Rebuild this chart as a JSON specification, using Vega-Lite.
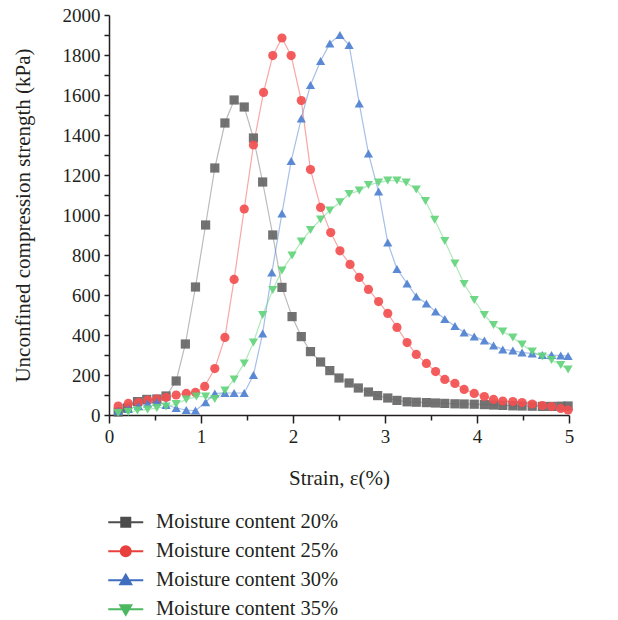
{
  "$schema": "https://vega.github.io/schema/vega-lite/v6.json",
  "width": 460,
  "height": 400,
  "autosize": {"type": "none"},
  "padding": {"left": 109, "top": 15, "right": 49, "bottom": 205},
  "background": "white",
  "config": {"view": {"stroke": null}, "font": "Liberation Serif"},
  "data": {"values": [
    {"s":0.1,"u":15,"m":"Moisture content 20%"},{"s":0.2,"u":35,"m":"Moisture content 20%"},{"s":0.31,"u":67,"m":"Moisture content 20%"},{"s":0.41,"u":78,"m":"Moisture content 20%"},{"s":0.52,"u":80,"m":"Moisture content 20%"},{"s":0.62,"u":95,"m":"Moisture content 20%"},{"s":0.73,"u":170,"m":"Moisture content 20%"},{"s":0.83,"u":355,"m":"Moisture content 20%"},{"s":0.94,"u":640,"m":"Moisture content 20%"},{"s":1.05,"u":950,"m":"Moisture content 20%"},{"s":1.15,"u":1235,"m":"Moisture content 20%"},{"s":1.26,"u":1460,"m":"Moisture content 20%"},{"s":1.36,"u":1575,"m":"Moisture content 20%"},{"s":1.47,"u":1540,"m":"Moisture content 20%"},{"s":1.57,"u":1385,"m":"Moisture content 20%"},{"s":1.67,"u":1165,"m":"Moisture content 20%"},{"s":1.78,"u":900,"m":"Moisture content 20%"},{"s":1.88,"u":638,"m":"Moisture content 20%"},{"s":1.99,"u":492,"m":"Moisture content 20%"},{"s":2.09,"u":392,"m":"Moisture content 20%"},{"s":2.19,"u":317,"m":"Moisture content 20%"},{"s":2.3,"u":265,"m":"Moisture content 20%"},{"s":2.4,"u":222,"m":"Moisture content 20%"},{"s":2.5,"u":185,"m":"Moisture content 20%"},{"s":2.61,"u":160,"m":"Moisture content 20%"},{"s":2.71,"u":135,"m":"Moisture content 20%"},{"s":2.82,"u":115,"m":"Moisture content 20%"},{"s":2.92,"u":97,"m":"Moisture content 20%"},{"s":3.03,"u":85,"m":"Moisture content 20%"},{"s":3.13,"u":73,"m":"Moisture content 20%"},{"s":3.24,"u":66,"m":"Moisture content 20%"},{"s":3.34,"u":64,"m":"Moisture content 20%"},{"s":3.45,"u":62,"m":"Moisture content 20%"},{"s":3.55,"u":60,"m":"Moisture content 20%"},{"s":3.65,"u":58,"m":"Moisture content 20%"},{"s":3.76,"u":56,"m":"Moisture content 20%"},{"s":3.86,"u":55,"m":"Moisture content 20%"},{"s":3.97,"u":54,"m":"Moisture content 20%"},{"s":4.08,"u":52,"m":"Moisture content 20%"},{"s":4.18,"u":50,"m":"Moisture content 20%"},{"s":4.28,"u":48,"m":"Moisture content 20%"},{"s":4.39,"u":46,"m":"Moisture content 20%"},{"s":4.49,"u":45,"m":"Moisture content 20%"},{"s":4.6,"u":44,"m":"Moisture content 20%"},{"s":4.71,"u":43,"m":"Moisture content 20%"},{"s":4.81,"u":43,"m":"Moisture content 20%"},{"s":4.91,"u":44,"m":"Moisture content 20%"},{"s":4.99,"u":45,"m":"Moisture content 20%"},

    {"s":0.1,"u":45,"m":"Moisture content 25%"},{"s":0.21,"u":58,"m":"Moisture content 25%"},{"s":0.32,"u":63,"m":"Moisture content 25%"},{"s":0.42,"u":75,"m":"Moisture content 25%"},{"s":0.52,"u":80,"m":"Moisture content 25%"},{"s":0.62,"u":88,"m":"Moisture content 25%"},{"s":0.73,"u":100,"m":"Moisture content 25%"},{"s":0.84,"u":108,"m":"Moisture content 25%"},{"s":0.94,"u":113,"m":"Moisture content 25%"},{"s":1.04,"u":143,"m":"Moisture content 25%"},{"s":1.15,"u":232,"m":"Moisture content 25%"},{"s":1.26,"u":388,"m":"Moisture content 25%"},{"s":1.36,"u":678,"m":"Moisture content 25%"},{"s":1.47,"u":1030,"m":"Moisture content 25%"},{"s":1.57,"u":1350,"m":"Moisture content 25%"},{"s":1.68,"u":1613,"m":"Moisture content 25%"},{"s":1.78,"u":1797,"m":"Moisture content 25%"},{"s":1.88,"u":1885,"m":"Moisture content 25%"},{"s":1.98,"u":1797,"m":"Moisture content 25%"},{"s":2.09,"u":1572,"m":"Moisture content 25%"},{"s":2.19,"u":1227,"m":"Moisture content 25%"},{"s":2.3,"u":1038,"m":"Moisture content 25%"},{"s":2.41,"u":912,"m":"Moisture content 25%"},{"s":2.51,"u":821,"m":"Moisture content 25%"},{"s":2.62,"u":753,"m":"Moisture content 25%"},{"s":2.72,"u":688,"m":"Moisture content 25%"},{"s":2.82,"u":628,"m":"Moisture content 25%"},{"s":2.93,"u":567,"m":"Moisture content 25%"},{"s":3.03,"u":508,"m":"Moisture content 25%"},{"s":3.13,"u":438,"m":"Moisture content 25%"},{"s":3.24,"u":362,"m":"Moisture content 25%"},{"s":3.34,"u":303,"m":"Moisture content 25%"},{"s":3.45,"u":258,"m":"Moisture content 25%"},{"s":3.55,"u":217,"m":"Moisture content 25%"},{"s":3.65,"u":178,"m":"Moisture content 25%"},{"s":3.76,"u":158,"m":"Moisture content 25%"},{"s":3.86,"u":128,"m":"Moisture content 25%"},{"s":3.97,"u":108,"m":"Moisture content 25%"},{"s":4.08,"u":92,"m":"Moisture content 25%"},{"s":4.18,"u":78,"m":"Moisture content 25%"},{"s":4.28,"u":70,"m":"Moisture content 25%"},{"s":4.39,"u":67,"m":"Moisture content 25%"},{"s":4.49,"u":62,"m":"Moisture content 25%"},{"s":4.6,"u":55,"m":"Moisture content 25%"},{"s":4.71,"u":47,"m":"Moisture content 25%"},{"s":4.81,"u":42,"m":"Moisture content 25%"},{"s":4.91,"u":33,"m":"Moisture content 25%"},{"s":4.99,"u":25,"m":"Moisture content 25%"},

    {"s":0.1,"u":20,"m":"Moisture content 30%"},{"s":0.21,"u":30,"m":"Moisture content 30%"},{"s":0.32,"u":45,"m":"Moisture content 30%"},{"s":0.42,"u":58,"m":"Moisture content 30%"},{"s":0.52,"u":65,"m":"Moisture content 30%"},{"s":0.62,"u":50,"m":"Moisture content 30%"},{"s":0.73,"u":35,"m":"Moisture content 30%"},{"s":0.84,"u":25,"m":"Moisture content 30%"},{"s":0.94,"u":22,"m":"Moisture content 30%"},{"s":1.05,"u":64,"m":"Moisture content 30%"},{"s":1.15,"u":108,"m":"Moisture content 30%"},{"s":1.26,"u":110,"m":"Moisture content 30%"},{"s":1.36,"u":110,"m":"Moisture content 30%"},{"s":1.47,"u":110,"m":"Moisture content 30%"},{"s":1.57,"u":200,"m":"Moisture content 30%"},{"s":1.67,"u":408,"m":"Moisture content 30%"},{"s":1.77,"u":712,"m":"Moisture content 30%"},{"s":1.88,"u":1008,"m":"Moisture content 30%"},{"s":1.98,"u":1270,"m":"Moisture content 30%"},{"s":2.09,"u":1483,"m":"Moisture content 30%"},{"s":2.19,"u":1650,"m":"Moisture content 30%"},{"s":2.3,"u":1770,"m":"Moisture content 30%"},{"s":2.4,"u":1858,"m":"Moisture content 30%"},{"s":2.51,"u":1900,"m":"Moisture content 30%"},{"s":2.61,"u":1850,"m":"Moisture content 30%"},{"s":2.72,"u":1558,"m":"Moisture content 30%"},{"s":2.82,"u":1308,"m":"Moisture content 30%"},{"s":2.93,"u":1117,"m":"Moisture content 30%"},{"s":3.03,"u":862,"m":"Moisture content 30%"},{"s":3.13,"u":730,"m":"Moisture content 30%"},{"s":3.24,"u":658,"m":"Moisture content 30%"},{"s":3.34,"u":592,"m":"Moisture content 30%"},{"s":3.45,"u":558,"m":"Moisture content 30%"},{"s":3.55,"u":517,"m":"Moisture content 30%"},{"s":3.65,"u":480,"m":"Moisture content 30%"},{"s":3.76,"u":445,"m":"Moisture content 30%"},{"s":3.86,"u":413,"m":"Moisture content 30%"},{"s":3.97,"u":392,"m":"Moisture content 30%"},{"s":4.08,"u":372,"m":"Moisture content 30%"},{"s":4.18,"u":347,"m":"Moisture content 30%"},{"s":4.28,"u":328,"m":"Moisture content 30%"},{"s":4.39,"u":322,"m":"Moisture content 30%"},{"s":4.49,"u":312,"m":"Moisture content 30%"},{"s":4.6,"u":308,"m":"Moisture content 30%"},{"s":4.71,"u":300,"m":"Moisture content 30%"},{"s":4.81,"u":300,"m":"Moisture content 30%"},{"s":4.91,"u":297,"m":"Moisture content 30%"},{"s":4.99,"u":295,"m":"Moisture content 30%"},

    {"s":0.1,"u":10,"m":"Moisture content 35%"},{"s":0.21,"u":15,"m":"Moisture content 35%"},{"s":0.31,"u":22,"m":"Moisture content 35%"},{"s":0.42,"u":28,"m":"Moisture content 35%"},{"s":0.52,"u":35,"m":"Moisture content 35%"},{"s":0.62,"u":42,"m":"Moisture content 35%"},{"s":0.73,"u":55,"m":"Moisture content 35%"},{"s":0.84,"u":78,"m":"Moisture content 35%"},{"s":0.95,"u":92,"m":"Moisture content 35%"},{"s":1.05,"u":92,"m":"Moisture content 35%"},{"s":1.15,"u":80,"m":"Moisture content 35%"},{"s":1.26,"u":122,"m":"Moisture content 35%"},{"s":1.36,"u":178,"m":"Moisture content 35%"},{"s":1.47,"u":258,"m":"Moisture content 35%"},{"s":1.57,"u":362,"m":"Moisture content 35%"},{"s":1.67,"u":500,"m":"Moisture content 35%"},{"s":1.78,"u":625,"m":"Moisture content 35%"},{"s":1.88,"u":723,"m":"Moisture content 35%"},{"s":1.99,"u":797,"m":"Moisture content 35%"},{"s":2.09,"u":867,"m":"Moisture content 35%"},{"s":2.19,"u":925,"m":"Moisture content 35%"},{"s":2.3,"u":978,"m":"Moisture content 35%"},{"s":2.4,"u":1023,"m":"Moisture content 35%"},{"s":2.51,"u":1064,"m":"Moisture content 35%"},{"s":2.61,"u":1105,"m":"Moisture content 35%"},{"s":2.72,"u":1122,"m":"Moisture content 35%"},{"s":2.82,"u":1150,"m":"Moisture content 35%"},{"s":2.93,"u":1162,"m":"Moisture content 35%"},{"s":3.03,"u":1172,"m":"Moisture content 35%"},{"s":3.13,"u":1172,"m":"Moisture content 35%"},{"s":3.23,"u":1162,"m":"Moisture content 35%"},{"s":3.34,"u":1128,"m":"Moisture content 35%"},{"s":3.44,"u":1070,"m":"Moisture content 35%"},{"s":3.54,"u":976,"m":"Moisture content 35%"},{"s":3.65,"u":870,"m":"Moisture content 35%"},{"s":3.76,"u":758,"m":"Moisture content 35%"},{"s":3.86,"u":655,"m":"Moisture content 35%"},{"s":3.97,"u":575,"m":"Moisture content 35%"},{"s":4.08,"u":500,"m":"Moisture content 35%"},{"s":4.18,"u":450,"m":"Moisture content 35%"},{"s":4.28,"u":417,"m":"Moisture content 35%"},{"s":4.39,"u":388,"m":"Moisture content 35%"},{"s":4.49,"u":353,"m":"Moisture content 35%"},{"s":4.6,"u":317,"m":"Moisture content 35%"},{"s":4.71,"u":292,"m":"Moisture content 35%"},{"s":4.81,"u":275,"m":"Moisture content 35%"},{"s":4.91,"u":250,"m":"Moisture content 35%"},{"s":4.99,"u":228,"m":"Moisture content 35%"}
  ]},
  "encoding": {
    "x": {
      "field": "s", "type": "quantitative",
      "scale": {"domain": [0, 5], "nice": false, "zero": false},
      "axis": {
        "title": "Strain, ε(%)",
        "values": [0, 0.5, 1, 1.5, 2, 2.5, 3, 3.5, 4, 4.5, 5],
        "labelExpr": "datum.value % 1 === 0 ? format(datum.value, 'd') : ''",
        "grid": false,
        "domainColor": "#231f20", "domainWidth": 1.5,
        "tickColor": "#231f20", "tickWidth": 1.5,
        "tickSize": {"condition": {"test": "datum.value % 1 === 0", "value": 8}, "value": 5},
        "labelFont": "Liberation Serif", "labelFontSize": 19, "labelColor": "#231f20",
        "labelPadding": 4, "labelFlush": false, "labelOverlap": false,
        "titleFont": "Liberation Serif", "titleFontSize": 21, "titleFontWeight": "normal", "titleColor": "#231f20",
        "titlePadding": 21
      }
    },
    "y": {
      "field": "u", "type": "quantitative",
      "scale": {"domain": [0, 2000], "nice": false},
      "axis": {
        "title": "Unconfined compression strength (kPa)",
        "values": [0,100,200,300,400,500,600,700,800,900,1000,1100,1200,1300,1400,1500,1600,1700,1800,1900,2000],
        "labelExpr": "datum.value % 200 === 0 ? format(datum.value, 'd') : ''",
        "grid": false,
        "domainColor": "#231f20", "domainWidth": 1.5,
        "tickColor": "#231f20", "tickWidth": 1.5,
        "tickSize": 5,
        "labelFont": "Liberation Serif", "labelFontSize": 19, "labelColor": "#231f20",
        "labelPadding": 4, "labelFlush": false, "labelOverlap": false,
        "titleFont": "Liberation Serif", "titleFontSize": 21, "titleFontWeight": "normal", "titleColor": "#231f20",
        "titlePadding": 29
      }
    }
  },
  "layer": [
    {
      "mark": {"type": "line", "strokeWidth": 1.2, "opacity": 0.5},
      "encoding": {
        "color": {"field": "m", "type": "nominal",
          "scale": {"domain": ["Moisture content 20%", "Moisture content 25%", "Moisture content 30%", "Moisture content 35%"],
                    "range": ["#777777", "#f25050", "#4f80d0", "#5fd47a"]},
          "legend": null}
      }
    },
    {
      "mark": {"type": "point", "filled": true, "size": 85, "opacity": 0.92},
      "encoding": {
        "color": {"field": "m", "type": "nominal",
          "scale": {"domain": ["Moisture content 20%", "Moisture content 25%", "Moisture content 30%", "Moisture content 35%"],
                    "range": ["#666666", "#f24f4f", "#4f80d0", "#63d47c"]},
          "legend": null},
        "shape": {"field": "m", "type": "nominal",
          "scale": {"domain": ["Moisture content 20%", "Moisture content 25%", "Moisture content 30%", "Moisture content 35%"],
                    "range": ["square", "circle", "triangle-up", "triangle-down"]},
          "legend": null}
      }
    },
    {
      "transform": [{"filter": "datum.u < 0"}],
      "mark": {"type": "point", "opacity": 1, "strokeWidth": 2},
      "encoding": {
        "fill": {"field": "m", "type": "nominal",
          "scale": {"domain": ["Moisture content 20%", "Moisture content 25%", "Moisture content 30%", "Moisture content 35%"],
                    "range": ["#4d4d4d", "#e8403e", "#3f6dbf", "#4cb860"]},
          "legend": {"title": null, "orient": "none", "legendX": 6.5, "legendY": 497, "direction": "vertical",
                     "labelFont": "Liberation Serif", "labelFontSize": 20.5, "labelColor": "#231f20", "labelLimit": 0,
                     "symbolSize": 100, "symbolStrokeWidth": 2, "symbolOpacity": 1, "labelOffset": 20, "rowPadding": 8, "padding": 0}},
        "stroke": {"field": "m", "type": "nominal",
          "scale": {"domain": ["Moisture content 20%", "Moisture content 25%", "Moisture content 30%", "Moisture content 35%"],
                    "range": ["#4d4d4d", "#e8403e", "#3f6dbf", "#4cb860"]},
          "legend": {"title": null, "orient": "none", "legendX": 6.5, "legendY": 497, "direction": "vertical",
                     "labelFont": "Liberation Serif", "labelFontSize": 20.5, "labelColor": "#231f20", "labelLimit": 0,
                     "symbolSize": 100, "symbolStrokeWidth": 2, "symbolOpacity": 1, "labelOffset": 20, "rowPadding": 8, "padding": 0}},
        "shape": {"field": "m", "type": "nominal",
          "scale": {"domain": ["Moisture content 20%", "Moisture content 25%", "Moisture content 30%", "Moisture content 35%"],
                    "range": ["M-3.5,0H3.5M-0.9,-0.9H0.9V0.9H-0.9Z",
                              "M-3.5,0H3.5M-1,0A1,1 0 1,0 1,0A1,1 0 1,0 -1,0Z",
                              "M-3.5,0H3.5M0,-1.1L1.1,0.8H-1.1Z",
                              "M-3.5,0H3.5M0,1.1L1.1,-0.8H-1.1Z"]},
          "legend": {"title": null, "orient": "none", "legendX": 6.5, "legendY": 497, "direction": "vertical",
                     "labelFont": "Liberation Serif", "labelFontSize": 20.5, "labelColor": "#231f20", "labelLimit": 0,
                     "symbolSize": 100, "symbolStrokeWidth": 2, "symbolOpacity": 1, "labelOffset": 20, "rowPadding": 8, "padding": 0}}
      }
    }
  ],
  "resolve": {"scale": {"color": "independent", "shape": "independent", "fill": "independent", "stroke": "independent"}}
}
